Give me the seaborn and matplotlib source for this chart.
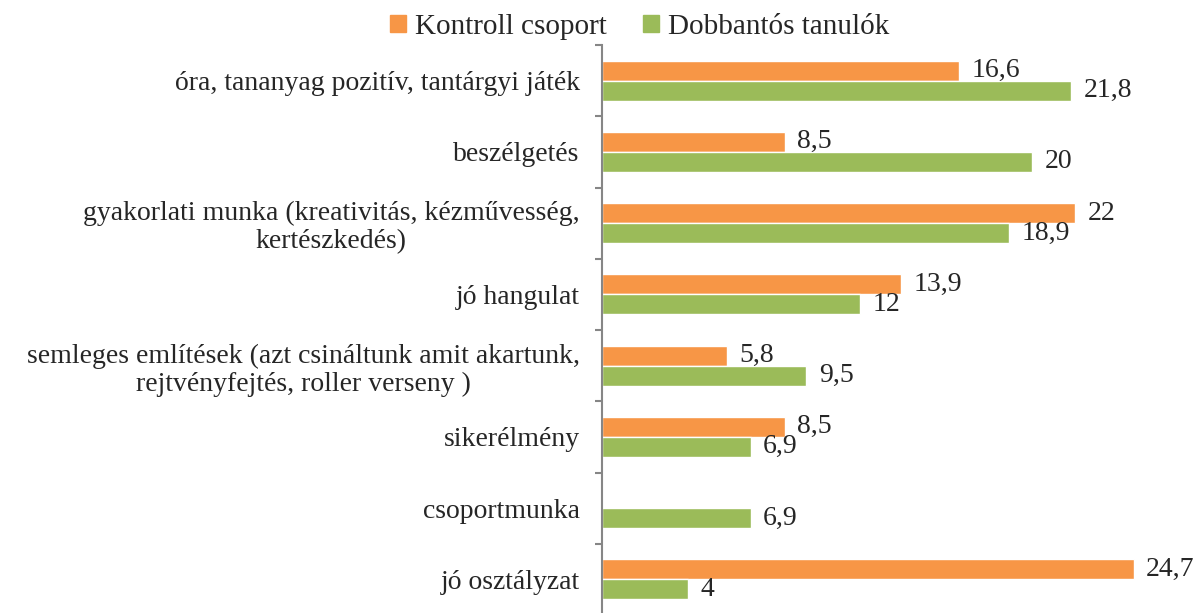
import numpy as np
import pandas as pd
import matplotlib
matplotlib.use('Agg')
import matplotlib.pyplot as plt
import seaborn as sns

# 数据
categories = [
    'óra, tananyag pozitív, tantárgyi játék',
    'beszélgetés',
    'gyakorlati munka (kreativitás, kézművesség,\nkertészkedés)',
    'jó hangulat',
    'semleges említések (azt csináltunk amit akartunk,\nrejtvényfejtés, roller verseny )',
    'sikerélmény',
    'csoportmunka',
    'jó osztályzat',
]
kontroll = [16.6, 8.5, 22, 13.9, 5.8, 8.5, np.nan, 24.7]
dobbantos = [21.8, 20, 18.9, 12, 9.5, 6.9, 6.9, 4]
series_names = ['Kontroll csoport', 'Dobbantós tanulók']
colors = ['#F79646', '#9BBB59']

df = pd.DataFrame({
    'kategoria': categories * 2,
    'ertek': kontroll + dobbantos,
    'csoport': [series_names[0]] * len(categories) + [series_names[1]] * len(categories),
})
df['ertek'] = df['ertek'].fillna(0)  # 缺失值画成空柱

sns.set_style('white')
plt.rcParams['font.family'] = ['Liberation Serif', 'DejaVu Serif']
FS = 20

fig = plt.figure(figsize=(11.96, 6.13), dpi=100)
ax = fig.add_axes([602 / 1196, -2 / 613, 1 - 602 / 1196, 570 / 613])

sns.barplot(data=df, y='kategoria', x='ertek', hue='csoport', order=categories,
            hue_order=series_names, palette=colors, orient='h', width=0.56,
            ax=ax, legend=True, saturation=1)

ax.set_xlim(0, 27.6)
ax.set_ylim(len(categories) - 0.5, -0.5)
ax.set_xlabel('')
ax.set_ylabel('')
ax.set_xticks([])

# 数值标签
for cont, vals in zip(ax.containers, [kontroll, dobbantos]):
    labels = ['' if np.isnan(v) else f'{v:g}'.replace('.', ',') for v in vals]
    ax.bar_label(cont, labels=labels, padding=9, fontsize=FS)

# 坐标轴样式
for s in ['top', 'right', 'bottom']:
    ax.spines[s].set_visible(False)
ax.spines['left'].set_color('#868686')
ax.spines['left'].set_linewidth(1.5)
ax.set_yticks(np.arange(-0.5, len(categories), 1), minor=True)
ax.tick_params(axis='y', which='minor', length=5, width=1.5, color='#868686', left=True)
ax.tick_params(axis='y', which='major', length=0, pad=16, labelsize=FS)
for t in ax.get_yticklabels():
    t.set_multialignment('center')
    t.set_linespacing(1.15)

ax.legend_.remove()
handles = [plt.Rectangle((0, 0), 1, 1, color=c) for c in colors]
fig.legend(handles, series_names, loc='center', bbox_to_anchor=(0.535, 0.956),
           ncol=2, frameon=False, fontsize=21, handlelength=0.55, handleheight=0.55,
           handletextpad=0.3, columnspacing=1.25)

plt.savefig('out.png', dpi=100)
plt.close()
